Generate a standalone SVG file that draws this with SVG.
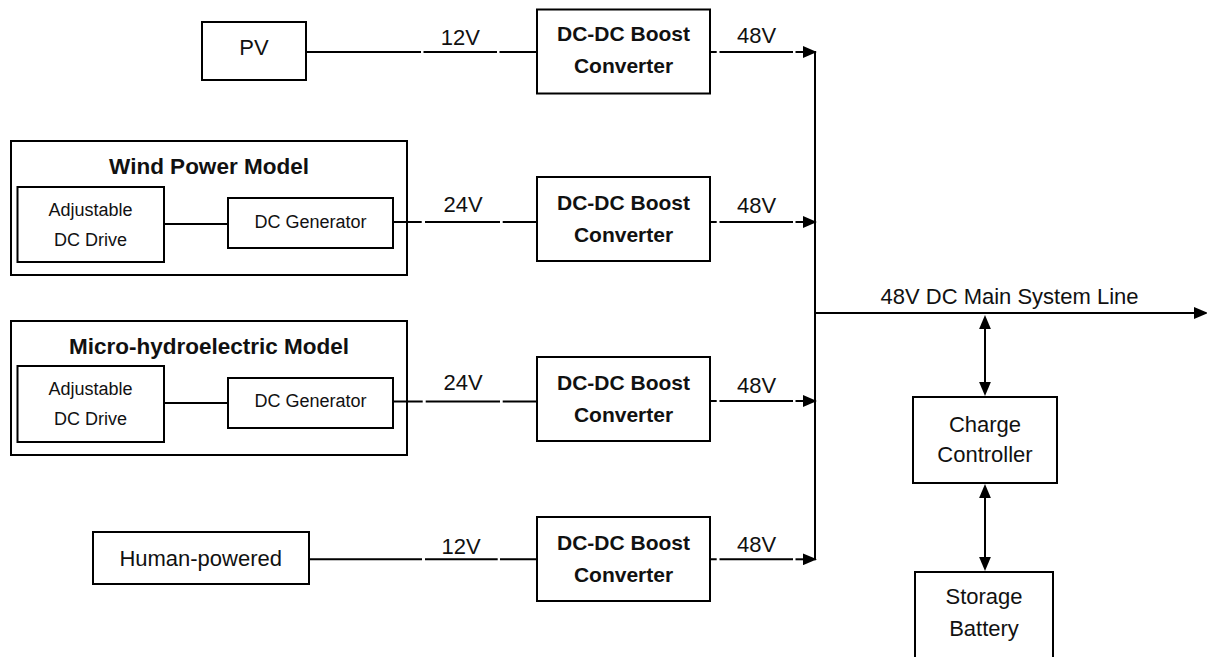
<svg xmlns="http://www.w3.org/2000/svg" width="1207" height="657" viewBox="0 0 1207 657">
<style>
.box{fill:#fff;stroke:#000;stroke-width:2}
.ln{fill:none;stroke:#000;stroke-width:2}
text{font-family:"Liberation Sans",Arial,sans-serif;fill:#111;text-anchor:middle}
.t{font-size:22px}
.b{font-size:21px;font-weight:bold}
.h{font-size:22.5px;font-weight:bold}
.s{font-size:18px}
</style>
<defs>
<marker id="arr" markerUnits="userSpaceOnUse" markerWidth="14" markerHeight="12" viewBox="0 0 13 11" refX="1" refY="5.5" orient="auto-start-reverse">
<path d="M0,0 L13,5.5 L0,11 z" fill="#000"/>
</marker>
</defs>
<rect width="1207" height="657" fill="#fff"/>

<g id="pv">
<rect class="box" x="202" y="22" width="104" height="58"/>
<text class="t" x="254" y="55">PV</text>
</g>

<g id="wind">
<rect class="box" x="11" y="141" width="396" height="134"/>
<text class="h" x="209" y="174">Wind Power Model</text>
<g id="wind-drive">
<rect class="box" x="17.5" y="187" width="146.5" height="75"/>
<text class="s" x="90.5" y="216">Adjustable</text>
<text class="s" x="90.5" y="246">DC Drive</text>
</g>
<g id="wind-gen">
<rect class="box" x="228" y="198" width="165" height="50"/>
<text class="s" x="310.5" y="228">DC Generator</text>
</g>
</g>

<g id="hydro">
<rect class="box" x="11" y="321" width="396" height="134"/>
<text class="h" x="209" y="354">Micro-hydroelectric Model</text>
<g id="hydro-drive">
<rect class="box" x="17.5" y="366" width="146.5" height="76"/>
<text class="s" x="90.5" y="395">Adjustable</text>
<text class="s" x="90.5" y="425">DC Drive</text>
</g>
<g id="hydro-gen">
<rect class="box" x="228" y="378" width="165" height="50"/>
<text class="s" x="310.5" y="407">DC Generator</text>
</g>
</g>

<g id="human">
<rect class="box" x="93" y="532" width="216" height="52"/>
<text class="t" x="200.7" y="565.7">Human-powered</text>
</g>

<g id="boost1">
<rect class="box" x="537" y="9.5" width="173" height="84"/>
<text class="b" x="623.5" y="41">DC-DC Boost</text>
<text class="b" x="623.5" y="73">Converter</text>
</g>
<g id="boost2">
<rect class="box" x="537" y="177" width="173" height="84"/>
<text class="b" x="623.5" y="210">DC-DC Boost</text>
<text class="b" x="623.5" y="242">Converter</text>
</g>
<g id="boost3">
<rect class="box" x="537" y="357" width="173" height="84"/>
<text class="b" x="623.5" y="390">DC-DC Boost</text>
<text class="b" x="623.5" y="422">Converter</text>
</g>
<g id="boost4">
<rect class="box" x="537" y="517" width="173" height="84"/>
<text class="b" x="623.5" y="550">DC-DC Boost</text>
<text class="b" x="623.5" y="582">Converter</text>
</g>

<g id="charge">
<rect class="box" x="913" y="397" width="144" height="86"/>
<text class="t" x="985" y="431.7">Charge</text>
<text class="t" x="985" y="461.7">Controller</text>
</g>

<g id="battery">
<rect class="box" x="915" y="572" width="138" height="100"/>
<text class="t" x="984" y="604">Storage</text>
<text class="t" x="984" y="635.7">Battery</text>
</g>

<g id="connectors">
<path class="ln" d="M306,52 H421 M423.5,52 H497 M499.5,52 H537"/>
<path class="ln" d="M392,222 H421.7 M425,222 H500 M502.7,222 H537"/>
<path class="ln" d="M392,401.5 H422.7 M425.7,401.5 H500 M502.7,401.5 H537"/>
<path class="ln" d="M309,559.3 H422 M425,559.3 H497.7 M500,559.3 H537"/>
<path class="ln" d="M164,224 H228"/>
<path class="ln" d="M164,403 H228"/>
<path class="ln" d="M710,52 H716.7 M719.5,52 H793"/>
<path class="ln" d="M795.5,52 H804" marker-end="url(#arr)"/>
<path class="ln" d="M710,222 H716.7 M719.5,222 H793"/>
<path class="ln" d="M795.5,222 H804" marker-end="url(#arr)"/>
<path class="ln" d="M710,401 H716.7 M719.5,401 H793"/>
<path class="ln" d="M795.5,401 H804" marker-end="url(#arr)"/>
<path class="ln" d="M710,559.3 H716.7 M719.5,559.3 H793"/>
<path class="ln" d="M795.5,559.3 H804" marker-end="url(#arr)"/>
<path class="ln" d="M815,51 V560.3"/>
<path class="ln" d="M815,313 H1195" marker-end="url(#arr)"/>
<path class="ln" d="M985,328 V383" marker-start="url(#arr)" marker-end="url(#arr)"/>
<path class="ln" d="M985,497 V558" marker-start="url(#arr)" marker-end="url(#arr)"/>
<text class="t" x="1009.5" y="304">48V DC Main System Line</text>
<text class="t" x="460.4" y="45">12V</text>
<text class="t" x="463" y="211.7">24V</text>
<text class="t" x="463" y="390">24V</text>
<text class="t" x="461" y="554">12V</text>
<text class="t" x="756.5" y="43.3">48V</text>
<text class="t" x="756.5" y="213.3">48V</text>
<text class="t" x="756.5" y="393">48V</text>
<text class="t" x="756.5" y="551.5">48V</text>
</g>
</svg>
